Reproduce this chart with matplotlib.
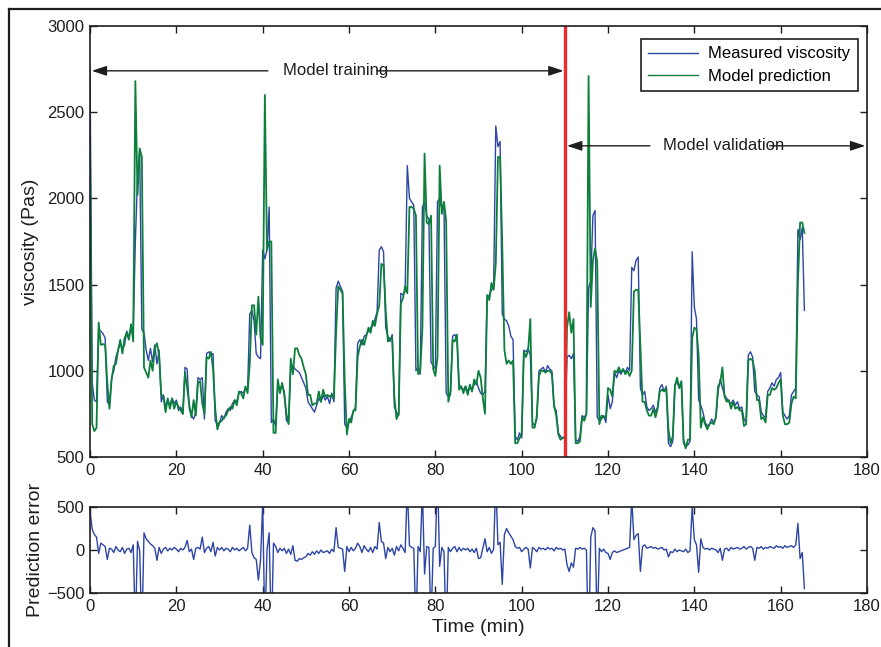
import matplotlib
matplotlib.use("Agg")
import numpy as np
import matplotlib.pyplot as plt
from matplotlib.lines import Line2D

plt.rcParams['font.family'] = ['Liberation Sans', 'DejaVu Sans']

# ---------- Data (sampled every 0.5 min) ----------

SAMPLE_STEP = 0.5

# Measured viscosity (Pas)
measured = [
    2760, 930, 830, 820, 1240, 1230, 1215, 1190, 820, 800,
    960, 1000, 1080, 1120, 1160, 1130, 1150, 1230, 1200, 1240,
    1230, 1750, 2120, 2280, 1240, 1220, 1120, 1060, 1130, 1050,
    1150, 1040, 1120, 820, 860, 790, 830, 800, 840, 810,
    830, 770, 790, 750, 1020, 1010, 780, 740, 720, 760,
    960, 950, 960, 720, 1100, 1110, 1090, 1100, 710, 690,
    700, 740, 720, 760, 780, 770, 810, 830, 820, 870,
    880, 870, 900, 890, 1330, 1350, 1290, 1100, 1080, 1070,
    1700, 1650, 1700, 1950, 700, 720, 680, 920, 890, 920,
    880, 710, 700, 1020, 1030, 1010, 1000, 990, 960, 930,
    900, 820, 800, 780, 760, 800, 840, 820, 860, 830,
    850, 810, 870, 820, 1480, 1520, 1490, 1460, 690, 670,
    700, 730, 760, 790, 1160, 1180, 1150, 1200, 1210, 1230,
    1250, 1260, 1300, 1340, 1700, 1720, 1690, 1250, 1200, 1170,
    1210, 790, 760, 740, 1450, 1440, 1460, 2190, 2000, 1980,
    1960, 1000, 1020, 980, 1950, 1980, 1900, 1880, 1050, 1030,
    1010, 1980, 2000, 1940, 1960, 870, 850, 860, 1200, 1210,
    1190, 920, 900, 890, 910, 880, 900, 890, 920, 940,
    900, 870, 860, 880, 1420, 1440, 1470, 1480, 2420, 2300,
    2330, 1330, 1300, 1290, 1260, 1200, 1180, 620, 600, 640,
    610, 1120, 1110, 1130, 1090, 700, 680, 720, 1000, 1010,
    1020, 990, 1030, 1010, 1000, 790, 770, 640, 620, 610,
    620, 1080, 1090, 1070, 1100, 600, 590, 620, 740, 730,
    750, 1480, 1520, 1900, 1930, 730, 710, 720, 740, 700,
    860, 780, 820, 990, 960, 1000, 980, 1010, 990, 1020,
    1000, 1600, 1580, 1640, 1660, 900, 860, 880, 790, 770,
    780, 800, 760, 790, 900, 920, 880, 910, 580, 560,
    590, 920, 940, 900, 930, 580, 560, 570, 590, 1690,
    1370, 1300, 830, 800, 760, 700, 680, 690, 720, 700,
    730, 880, 950, 900, 860, 840, 820, 810, 830, 800,
    820, 780, 790, 720, 700, 1090, 1110, 1080, 880, 860,
    850, 760, 740, 730, 880, 900, 930, 910, 950, 960,
    990, 760, 740, 720, 740, 860, 880, 900, 1820, 1760,
    1830, 1350,
]

# Prediction error = measured - predicted (Pas)
pred_error = [
    460, 240, 180, 150, -40, 80, 60, 40, -110, 20,
    10, -30, 40, 0, -20, 30, -40, 10, 20, -30,
    60, -930, 100, -10, -1000, 200, 130, 100, 70, 50,
    20, -120, 30, -40, 10, 30, -10, 20, 0, 30,
    10, -20, 20, 0, 30, 110, -20, 10, -110, 20,
    30, 10, 150, -30, 20, 40, -20, 90, -70, 30,
    0, 30, -10, 20, 10, -20, 30, 0, 20, -10,
    10, 30, -10, 20, 290, -30, -90, -110, -350, -120,
    550, -950, 0, 200, -1050, 80, 40, -30, 20, -10,
    20, -40, 10, -50, 50, -120, -130, -100, -110, -90,
    -80, -40, -60, -20, -50, -10, -40, 0, -30, -20,
    -10, -40, 10, -20, 260, 30, 20, 10, -250, 40,
    -20, 30, -10, 20, 80, 40, -30, 50, 10, -20,
    30, -30, 40, 10, 320, 100, 80, -100, 30, -20,
    20, -60, 40, -10, 60, 20, -30, 740, 50, 30,
    20, -900, 40, -20, 700, -280, 40, 30, -850, 20,
    40, 900, -190, 30, -20, -1000, 30, -20, 20, 40,
    -20, 30, -10, 20, 0, 20, -20, 10, -30, 20,
    -100, -90, 20, 130, -20, 30, -40, 10, 800, 60,
    90, -400, 180, 250, 200, 160, 120, 40, 20, 30,
    -20, 10, 30, 10, -210, 30, 10, -20, 30, 10,
    20, 0, 30, 10, 20, -10, 30, 10, 20, 0,
    10, -170, -250, -150, -200, 20, 10, 30, 10, 20,
    0, -1230, 150, 260, 220, -900, 20, -20, 10, -30,
    -40, -110, -30, -10, -30, -20, -10, 0, 10, 20,
    30, 600, 120, 170, 190, -250, 40, 60, 20, 30,
    40, 20, 30, 10, 20, 30, 0, 10, -80, -20,
    -30, 10, -20, 0, -10, -20, 10, -30, -10, 500,
    120, 60, -260, 130, 30, 10, 20, 0, 20, 10,
    0, -30, 20, -120, 10, 20, -10, 30, 10, 20,
    30, 10, 20, 40, 10, 30, 40, 20, -120, 30,
    20, 40, 10, 30, 20, 40, 30, 20, 50, 30,
    40, 20, 50, 30, 40, 50, 30, 60, 310, -100,
    -30, -450,
]

SPLIT_TIME = 110
X_TICKS = [0, 20, 40, 60, 80, 100, 120, 140, 160, 180]
Y_TICKS_TOP = [500, 1000, 1500, 2000, 2500, 3000]
Y_TICKS_BOTTOM = [-500, 0, 500]

BLUE = "#2d45a5"
GREEN = "#0c7f3c"
RED = "#ec2a2a"
INK = "#1e1e1e"

time = np.arange(len(measured)) * SAMPLE_STEP
measured = np.array(measured, dtype=float)
pred_error = np.array(pred_error, dtype=float)
predicted = measured - pred_error


# ---------- Helpers ----------

def style_axes(ax):
    for side in ax.spines.values():
        side.set_linewidth(1.2)
        side.set_color(INK)
    ax.tick_params(direction="in", top=True, right=True, length=5,
                   width=1, labelsize=12, colors=INK, pad=4)


def arrow(ax, x0, x1, y):
    ax.annotate("", xy=(x1, y), xytext=(x0, y),
                arrowprops=dict(arrowstyle="-|>,head_length=0.9,head_width=0.3",
                                color=INK, lw=1, shrinkA=0, shrinkB=0))


# ---------- Figure ----------

fig = plt.figure(figsize=(8.81, 6.47), dpi=100)
ax_top = fig.add_axes([0.1022, 0.2937, 0.8819, 0.6661])
ax_bot = fig.add_axes([0.1022, 0.0835, 0.8819, 0.1329])

# Top panel: measured vs predicted
ax_top.plot(time, measured, color=BLUE, lw=1.0, label="Measured viscosity")
ax_top.plot(time, predicted, color=GREEN, lw=1.3, label="Model prediction")
ax_top.axvline(SPLIT_TIME, color=RED, lw=2.4)

ax_top.set_xlim(0, 180)
ax_top.set_ylim(500, 3000)
ax_top.set_xticks(X_TICKS)
ax_top.set_yticks(Y_TICKS_TOP)
ax_top.set_ylabel("viscosity (Pas)", fontsize=14, color=INK, labelpad=6)
style_axes(ax_top)

# Training / validation annotations
arrow(ax_top, 41.2, 0.4, 2740)
ax_top.text(44.6, 2740, "Model training", fontsize=12, color=INK, va="center")
arrow(ax_top, 66.5, 109.7, 2740)
arrow(ax_top, 129.7, 110.5, 2305)
ax_top.text(132.7, 2305, "Model validation", fontsize=12, color=INK, va="center")
arrow(ax_top, 157.5, 179.6, 2305)

leg = ax_top.legend(loc="upper right", bbox_to_anchor=(0.9884, 0.970),
                    fontsize=12, frameon=True, fancybox=False,
                    framealpha=1, edgecolor=INK, handlelength=3.0,
                    borderpad=0.45, labelspacing=0.45, handletextpad=0.6,
                    borderaxespad=0)
leg.get_frame().set_linewidth(1.2)
for handle in leg.get_lines():
    handle.set_linewidth(1.0)

# Bottom panel: prediction error
ax_bot.plot(time, pred_error, color=BLUE, lw=1.0)
ax_bot.set_xlim(0, 180)
ax_bot.set_ylim(-500, 500)
ax_bot.set_xticks(X_TICKS)
ax_bot.set_yticks(Y_TICKS_BOTTOM)
ax_bot.set_ylabel("Prediction error", fontsize=14, color=INK, labelpad=2)
ax_bot.set_xlabel("Time (min)", fontsize=14, color=INK, labelpad=4)
style_axes(ax_bot)

# Outer frame (left and top edges visible in the original)
fig.add_artist(Line2D([8.5 / 881, 8.5 / 881], [0, 1 - 8.5 / 647],
                      transform=fig.transFigure, color=INK, lw=1.6))
fig.add_artist(Line2D([8.5 / 881, 1], [1 - 8.5 / 647, 1 - 8.5 / 647],
                      transform=fig.transFigure, color=INK, lw=1.6))

fig.savefig("out.png", dpi=100)
